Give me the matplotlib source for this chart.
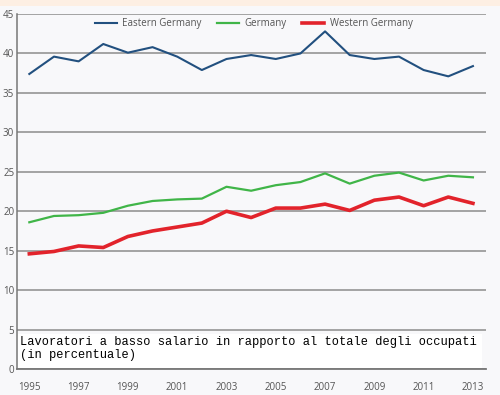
import matplotlib.pyplot as plt
import numpy as np
from matplotlib.patches import Rectangle

years = np.arange(1995, 2014)
eastern = [37.4, 39.6, 39.0, 41.2, 40.1, 40.8, 39.6, 37.9, 39.3, 39.8,
           39.3, 40.0, 42.8, 39.8, 39.3, 39.6, 37.9, 37.1, 38.4]
germany = [18.6, 19.4, 19.5, 19.8, 20.7, 21.3, 21.5, 21.6, 23.1, 22.6,
           23.3, 23.7, 24.8, 23.5, 24.5, 24.9, 23.9, 24.5, 24.3]
western = [14.6, 14.9, 15.6, 15.4, 16.8, 17.5, 18.0, 18.5, 20.0, 19.2,
           20.4, 20.4, 20.9, 20.1, 21.4, 21.8, 20.7, 21.8, 21.0]
x_ticks = [1995, 1997, 1999, 2001, 2003, 2005, 2007, 2009, 2011, 2013]
y_ticks = [0, 5, 10, 15, 20, 25, 30, 35, 40, 45]
caption = "Lavoratori a basso salario in rapporto al totale degli occupati\n(in percentuale)"

fig = plt.figure(figsize=(5, 3.95), dpi=100)
fig.patch.set_facecolor('#f8f8fa')
# peach band at the top
fig.patches.append(Rectangle((0, 1 - 6 / 395), 1, 6 / 395, transform=fig.transFigure,
                             facecolor='#fdefe3', edgecolor='none', zorder=0))

ax = fig.add_axes([0.034, 0.0658, 0.938, 0.8987])
ax.set_facecolor('#f8f8fa')

ax.plot(years, eastern, color='#22507f', lw=1.5, label='Eastern Germany', zorder=3)
ax.plot(years, germany, color='#40b548', lw=1.6, label='Germany', zorder=3)
ax.plot(years, western, color='#e2232b', lw=2.6, label='Western Germany', zorder=3)

ax.set_xlim(1994.5, 2013.53)
ax.set_ylim(0, 45)
ax.set_xticks(x_ticks)
ax.set_yticks(y_ticks)
ax.yaxis.grid(True, color='#8c8c8c', lw=1.1)
ax.set_axisbelow(True)
ax.tick_params(length=0, labelsize=7, colors='#555555', pad=2)
ax.tick_params(axis='x', pad=9)
for lab in ax.get_xticklabels() + ax.get_yticklabels():
    lab.set_family('Open Sans')
for s in ['top', 'right']:
    ax.spines[s].set_visible(False)
ax.spines['left'].set_color('#777777')
ax.spines['bottom'].set_color('#777777')
ax.spines['left'].set_linewidth(1.1)
ax.spines['bottom'].set_linewidth(1.3)

leg = ax.legend(loc='center', bbox_to_anchor=(0.505, 0.972), ncol=3, frameon=False,
                fontsize=7, handlelength=2.2, columnspacing=1.6, handletextpad=0.6)
for t in leg.get_texts():
    t.set_color('#555555')
    t.set_family('Open Sans')

ax.add_patch(Rectangle((0.002, 0.003), 0.99, 0.097, transform=ax.transAxes,
                       facecolor='white', edgecolor='none', zorder=2))
ax.text(0.006, 0.093, caption, transform=ax.transAxes, va='top', ha='left',
        family='Liberation Mono', fontsize=8.65, color='black', zorder=4,
        linespacing=1.1)

fig.savefig('out.png', dpi=100, facecolor=fig.get_facecolor())
